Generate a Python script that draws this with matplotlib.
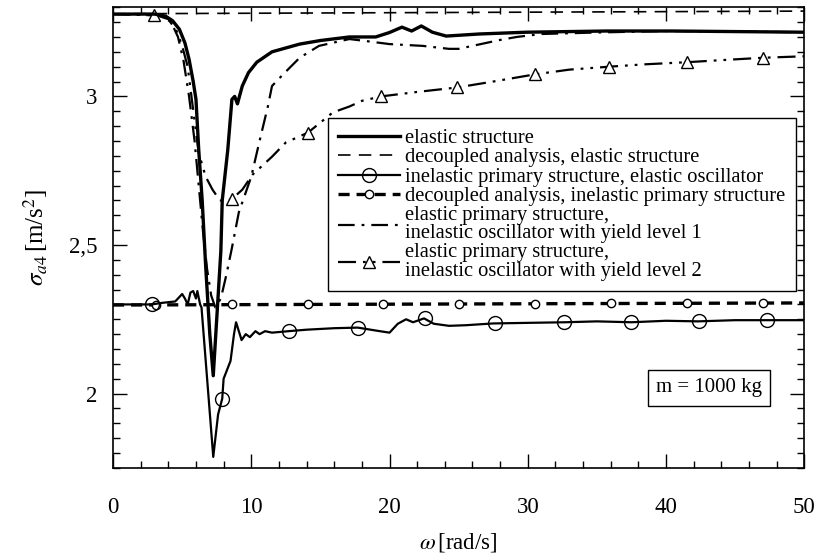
import matplotlib
matplotlib.use("Agg")
import matplotlib.pyplot as plt
from matplotlib.ticker import MultipleLocator, FuncFormatter

plt.rcParams['font.family'] = ['Liberation Serif', 'DejaVu Serif']
plt.rcParams['mathtext.fontset'] = 'stix'
plt.rcParams['lines.scale_dashes'] = False

# elastic structure (thick solid)
el_x = [0, 3.0, 3.8, 4.3, 4.8, 5.2, 5.5, 5.8, 6.0, 6.2, 6.45, 6.7, 7.0, 7.25, 7.5, 7.8,
        7.9, 8.3, 8.6, 8.8, 9.0, 9.35, 9.8, 10.4, 11.5, 13.5, 15.0, 17.1, 19.0, 20.0,
        20.9, 21.6, 22.3, 23.1, 24.1, 26.5, 29.9, 35.7, 40.5, 50]
el_y = [3.277, 3.277, 3.27, 3.255, 3.226, 3.18, 3.125, 3.05, 2.99, 2.82, 2.65, 2.43, 2.2,
        2.06, 2.25, 2.48, 2.65, 2.82, 2.99, 3.0, 2.975, 3.035, 3.08, 3.115, 3.15, 3.176,
        3.188, 3.2, 3.2, 3.215, 3.233, 3.22, 3.237, 3.216, 3.203, 3.21, 3.216, 3.22, 3.22,
        3.216]

# decoupled analysis, elastic structure (thin dashed)
dec_el_x = [0, 50]
dec_el_y = [3.278, 3.287]

# inelastic primary structure, elastic oscillator (thin solid + circles)
inel_x = [0, 2.8, 3.5, 4.5, 5.0, 5.2, 5.4, 5.6, 5.8, 6.0, 6.1, 6.3, 6.4, 7.25, 7.6, 7.9,
          8.0, 8.5, 8.75, 8.9, 9.3, 9.6, 9.9, 10.3, 10.6, 11.0, 11.5, 12.7, 14.0, 16.0,
          17.7, 19.3, 20.0, 20.6, 21.2, 21.7, 22.5, 23.2, 24.3, 25.5, 27.5, 30.0, 32.7,
          35.0, 37.5, 40.0, 42.3, 45.0, 47.3, 50]
inel_y = [2.30, 2.30, 2.305, 2.31, 2.335, 2.32, 2.30, 2.34, 2.345, 2.32, 2.345, 2.30,
          2.29, 1.787, 1.93, 1.983, 2.05, 2.11, 2.20, 2.24, 2.18, 2.20, 2.19, 2.21, 2.20,
          2.21, 2.205, 2.21, 2.215, 2.22, 2.222, 2.21, 2.205, 2.235, 2.25, 2.24, 2.253,
          2.235, 2.228, 2.23, 2.236, 2.238, 2.24, 2.243, 2.24, 2.245, 2.243, 2.247, 2.247,
          2.247]
inel_mx = [2.8, 7.9, 12.7, 17.7, 22.6, 27.6, 32.6, 37.5, 42.4, 47.3]
inel_my = [2.30, 1.983, 2.21, 2.222, 2.253, 2.236, 2.24, 2.24, 2.243, 2.247]

# decoupled analysis, inelastic primary structure (thick dashed + small circles)
dec_in_x = [0, 50]
dec_in_y = [2.298, 2.305]
dec_in_mx = [3.1, 8.6, 14.1, 19.5, 25.0, 30.5, 36.0, 41.5, 47.0]
dec_in_my = [2.299, 2.300, 2.301, 2.302, 2.302, 2.303, 2.304, 2.304, 2.305]

# elastic primary structure, inelastic oscillator with yield level 1
y1_x = [0, 3.5, 4.2, 4.7, 5.1, 5.5, 5.9, 6.2, 6.5, 6.8, 7.1, 7.4, 7.8, 8.2, 8.6, 9.1,
        10.0, 10.6, 11.2, 11.5, 12.3, 13.5, 14.9, 17.1, 18.5, 20.0, 22.4, 24.3, 25.0,
        26.5, 28.0, 29.2, 31.0, 35.0, 40.0, 50]
y1_y = [3.277, 3.272, 3.25, 3.2, 3.12, 3.0, 2.85, 2.7, 2.55, 2.42, 2.33, 2.29, 2.32, 2.4,
        2.49, 2.61, 2.73, 2.85, 2.966, 3.035, 3.074, 3.13, 3.17, 3.193, 3.185, 3.176,
        3.17, 3.16, 3.16, 3.175, 3.19, 3.2, 3.21, 3.215, 3.22, 3.216]

# elastic primary structure, inelastic oscillator with yield level 2 (triangles)
y2_x = [0, 3.0, 4.0, 4.6, 5.0, 5.4, 5.7, 6.0, 6.2, 6.7, 7.2, 7.7, 8.0, 8.6, 9.35, 10.1,
        11.5, 12.5, 14.1, 15.9, 17.1, 18.0, 19.4, 22.0, 24.9, 27.5, 30.5, 33.0, 35.9,
        38.5, 41.5, 44.0, 47.0, 50]
y2_y = [3.277, 3.275, 3.26, 3.22, 3.17, 3.10, 2.99, 2.88, 2.81, 2.73, 2.686, 2.652, 2.645,
        2.655, 2.686, 2.737, 2.797, 2.845, 2.878, 2.946, 2.966, 2.985, 3.0, 3.015, 3.03,
        3.05, 3.074, 3.09, 3.10, 3.108, 3.115, 3.122, 3.13, 3.135]
y2_mx = [3.0, 8.6, 14.1, 19.4, 24.9, 30.5, 35.9, 41.5, 47.0]
y2_my = [3.275, 2.655, 2.878, 3.0, 3.03, 3.074, 3.10, 3.115, 3.13]

labels = ['elastic structure',
          'decoupled analysis, elastic structure',
          'inelastic primary structure, elastic oscillator',
          'decoupled analysis, inelastic primary structure',
          'elastic primary structure,\ninelastic oscillator with yield level 1',
          'elastic primary structure,\ninelastic oscillator with yield level 2']

fig = plt.figure(figsize=(8.19, 5.57), dpi=100)
ax = fig.add_axes([0.138, 0.160, 0.844, 0.827])

l_dec_el, = ax.plot(dec_el_x, dec_el_y, color='black', lw=1.2, dashes=(9, 6))
l_dec_in, = ax.plot(dec_in_x, dec_in_y, color='black', lw=2.4, dashes=(8, 5))
m_dec_in, = ax.plot(dec_in_mx, dec_in_my, ls='none', marker='o', ms=6, mfc='white',
                    mec='black', mew=1.0)
l_y1, = ax.plot(y1_x, y1_y, color='black', lw=1.6, dashes=(12, 5, 2, 5))
l_y2, = ax.plot(y2_x, y2_y, color='black', lw=1.6, dashes=(13, 5, 2, 5, 2, 5))
m_y2, = ax.plot(y2_mx, y2_my, ls='none', marker='^', ms=8, mfc='white', mec='black',
                mew=1.0)
l_in, = ax.plot(inel_x, inel_y, color='black', lw=1.6)
m_in, = ax.plot(inel_mx, inel_my, ls='none', marker='o', ms=10, mfc='none', mec='black',
                mew=1.0)
l_el, = ax.plot(el_x, el_y, color='black', lw=2.4)

ax.set_xlim(0, 50)
ax.set_ylim(1.75, 3.3)
ax.xaxis.set_major_locator(MultipleLocator(10))
ax.xaxis.set_minor_locator(MultipleLocator(2))
ax.yaxis.set_major_locator(MultipleLocator(0.5))
ax.yaxis.set_minor_locator(MultipleLocator(0.05))
ax.yaxis.set_major_formatter(FuncFormatter(lambda v, p: ('%g' % v).replace('.', ',')))
ax.tick_params(which='both', direction='in', top=True, right=True, labelsize=16.5)
ax.tick_params(which='major', length=10, width=1.0)
ax.tick_params(which='minor', length=5, width=1.0)
ax.tick_params(axis='x', which='major', pad=21)
ax.tick_params(axis='y', which='major', pad=11)
for s in ax.spines.values():
    s.set_linewidth(1.2)

ax.set_xlabel(r'$\omega\,$[rad/s]', fontsize=16.5, labelpad=9)
ax.set_ylabel(r'$\sigma_{a4}\,$[m/s$^2$]', fontsize=18, labelpad=14)

leg = ax.legend([l_el, l_dec_el, (l_in, m_in), (l_dec_in, m_dec_in), l_y1, (l_y2, m_y2)],
                labels, loc='upper left', bbox_to_anchor=(0.311, 0.759), fontsize=14.8,
                frameon=True, fancybox=False, framealpha=1, edgecolor='black',
                handlelength=3.0, handletextpad=0.25, labelspacing=0.0, borderpad=0.5,
                borderaxespad=0)
leg.get_frame().set_linewidth(1.0)
for t in leg.get_texts():
    t.set_linespacing(0.95)

ax.text(0.862, 0.1735, 'm = 1000 kg', transform=ax.transAxes, fontsize=15,
        ha='center', va='center',
        bbox=dict(boxstyle='square,pad=0.4', fc='white', ec='black', lw=1.0))

fig.savefig('out.png', dpi=100)
